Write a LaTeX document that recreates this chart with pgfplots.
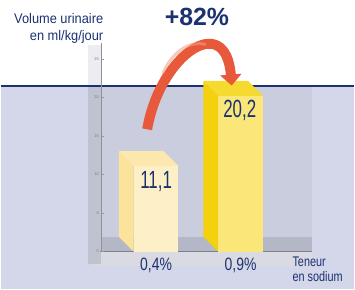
\documentclass[border=0pt]{standalone}
\usepackage{pgfplots}
\pgfplotsset{compat=1.18}
\usepackage{fontspec}
\setmainfont{Liberation Sans}
\newfontfamily\condA[FakeStretch=0.68]{Liberation Sans}
\newfontfamily\condB[FakeStretch=0.78]{Liberation Sans}
\newfontfamily\condC[FakeStretch=0.92]{Liberation Sans}
\usetikzlibrary{arrows.meta}
\definecolor{navy}{HTML}{1B3272}
\definecolor{bgl}{HTML}{D4D6E9}
\definecolor{panel}{HTML}{C9CDDD}
\definecolor{floorc}{HTML}{B4B8C6}
\definecolor{frontedge}{HTML}{D9DAE2}
\definecolor{strip}{HTML}{BFC3D0}
\definecolor{stripw}{HTML}{ECEDF0}
\definecolor{floorline}{HTML}{7D818D}
\definecolor{axisg}{HTML}{8C90A0}
\definecolor{tickg}{HTML}{969AA8}
\definecolor{ticklab}{HTML}{787C8C}
\definecolor{bAfront}{HTML}{FDF0C6}
\definecolor{bAside}{HTML}{FBE39C}
\definecolor{bAtop}{HTML}{FCE8AE}
\definecolor{bBfront}{HTML}{FBE679}
\definecolor{bBside}{HTML}{F4D10E}
\definecolor{bBtop}{HTML}{F7DA30}
\definecolor{arrowc}{HTML}{E8583A}
\definecolor{arrowl}{HTML}{F2A086}
\begin{document}
\begin{tikzpicture}[x=1pt,y=1pt]
% background
\fill[white] (0,0) rectangle (355,291);
\fill[bgl] (0,0) rectangle (355,205);
\fill[panel] (95,23) rectangle (313,205);
\fill[floorc] (95,38) rectangle (313,53);
\fill[frontedge] (93,23) rectangle (313,38);
\fill[strip] (87,26) rectangle (101,205);
\fill[stripw] (87,205) rectangle (101,246);
\draw[line width=2pt, navy] (0,205) -- (355,205);
\draw[line width=0.8pt, floorline] (100,38) -- (313,38);
% texts
\node[font=\bfseries\fontsize{25}{25}\selectfont, text=navy] at (197,274) {+82\%};
\node[font=\condC\fontsize{14}{14}\selectfont, text=navy, anchor=base east, inner sep=0pt] at (103,267) {Volume urinaire};
\node[font=\condC\fontsize{14}{14}\selectfont, text=navy, anchor=base east, inner sep=0pt] at (103,250) {en ml/kg/jour};
\node[font=\condB\fontsize{14}{14}\selectfont, text=navy, anchor=base west, inner sep=0pt] at (293,23) {Teneur};
\node[font=\condB\fontsize{14}{14}\selectfont, text=navy, anchor=base west, inner sep=0pt] at (293,8) {en sodium};
\begin{axis}[
  at={(101pt,38pt)}, anchor=south west,
  scale only axis, width=212pt, height=209.25pt,
  xmin=0.353, xmax=2.847, ymin=0, ymax=27,
  clip=false,
  axis x line*=bottom, x axis line style={draw=none},
  axis y line*=left, y axis line style={draw=axisg, line width=0.6pt},
  xtick={1,2}, xticklabels={{0,4\%},{0,9\%}},
  x tick style={draw=none},
  xticklabel style={font=\condB\fontsize{18}{18}\selectfont, text=navy, yshift=-3pt},
  ytick={0,5,10,15,20,25},
  y tick style={draw=tickg, line width=0.4pt},
  major tick length=3pt,
  yticklabel style={font=\fontsize{4}{4}\selectfont, text=ticklab, xshift=1pt},
  /pgf/number format/assume math mode=true,
]
% bar 1 (0,4%) 3D faces
\addplot[fill=bAside, draw=none] coordinates {(0.735,0) (0.735,11.1) (0.559,13.04) (0.559,1.94)} --cycle;
\addplot[fill=bAtop, draw=none] coordinates {(0.735,11.1) (1.265,11.1) (1.088,13.04) (0.559,13.04)} --cycle;
\addplot[ybar, bar width=45pt, bar shift=0pt, fill=bAfront, draw=none] coordinates {(1,11.1)};
% bar 2 (0,9%) 3D faces
\addplot[fill=bBside, draw=none] coordinates {(1.735,0) (1.735,20.2) (1.559,22.14) (1.559,1.94)} --cycle;
\addplot[fill=bBtop, draw=none] coordinates {(1.735,20.2) (2.265,20.2) (2.088,22.14) (1.559,22.14)} --cycle;
\addplot[ybar, bar width=45pt, bar shift=0pt, fill=bBfront, draw=none] coordinates {(2,20.2)};
% value labels
\node[font=\condA\fontsize{25}{25}\selectfont, text=navy] at (axis cs:1,9.1) {11,1};
\node[font=\condA\fontsize{25}{25}\selectfont, text=navy] at (axis cs:1.99,18.3) {20,2};
% arrow
\draw[line width=10pt, arrowc, -{Triangle[width=21pt,length=11pt]}]
  (axis cs:0.894,15.87) .. controls (axis cs:1.047,25.6) and (axis cs:1.824,31.3) .. (axis cs:1.894,21.55);
\draw[line width=3pt, arrowl, opacity=0.55, line cap=round]
  (axis cs:1.08,23.2) .. controls (axis cs:1.22,26.4) and (axis cs:1.42,27.3) .. (axis cs:1.58,26.9);
\end{axis}
\end{tikzpicture}
\end{document}
